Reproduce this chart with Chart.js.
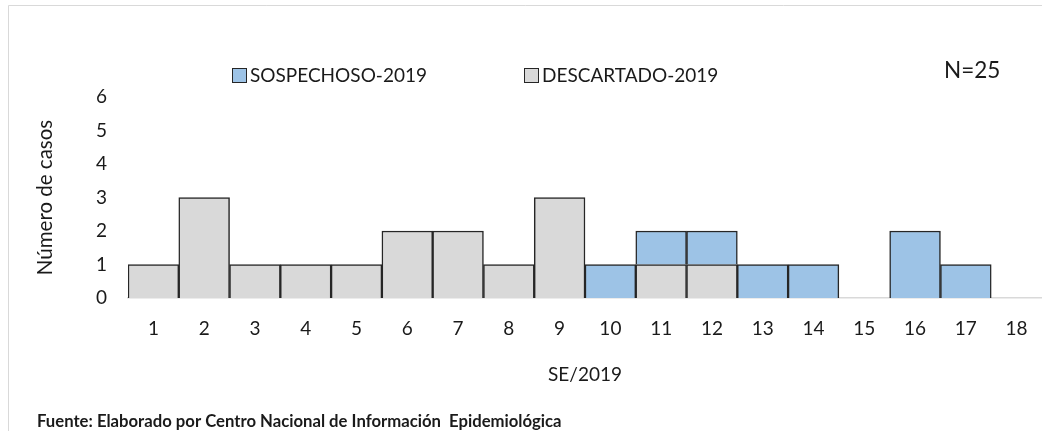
<!DOCTYPE html>
<html><head><meta charset="utf-8">
<script src="https://cdn.jsdelivr.net/npm/chart.js@4.4.1/dist/chart.umd.min.js"></script>
<style>html,body{margin:0;padding:0;background:#fff}#wrap{width:1042px;height:431px;position:relative}</style>
</head><body><div id="wrap"><canvas id="c"></canvas></div>
<script>
const weeks = ['1','2','3','4','5','6','7','8','9','10','11','12','13','14','15','16','17','18'];
const descartado = [1,3,1,1,1,2,2,1,3,0,1,1,0,0,0,0,0,0];
const sospechoso = [0,0,0,0,0,0,0,0,0,1,1,1,1,1,0,2,1,0];
const yTicks = [0,1,2,3,4,5,6];
const seriesLabels = ['SOSPECHOSO-2019','DESCARTADO-2019'];
const totalLabel = 'N=25';
const xTitle = 'SE/2019';
const yTitle = 'Número de casos';
const sourceNote = 'Fuente: Elaborado por Centro Nacional de Información  Epidemiológica';

const FONT = 'Lato';
const BLUE = '#9dc3e6', GREY = '#d9d9d9', EDGE = '#262626';

const decor = {
  id: 'decor',
  beforeDraw(chart) {
    const ctx = chart.ctx;
    ctx.save();
    ctx.fillStyle = '#fff';
    ctx.fillRect(0, 0, chart.width, chart.height);
    ctx.strokeStyle = '#d9d9d9';
    ctx.lineWidth = 1;
    ctx.beginPath();
    ctx.moveTo(8.5, chart.height);
    ctx.lineTo(8.5, 5.5);
    ctx.lineTo(chart.width, 5.5);
    ctx.stroke();
    ctx.restore();
  },
  afterDraw(chart) {
    const ctx = chart.ctx;
    ctx.save();
    const items = [{x: 232, ds: 1}, {x: 524, ds: 0}];
    ctx.font = '19px ' + FONT;
    ctx.textBaseline = 'middle';
    ctx.textAlign = 'left';
    items.forEach(it => {
      const ds = chart.data.datasets[it.ds];
      ctx.fillStyle = ds.backgroundColor;
      ctx.fillRect(it.x + 0.5, 68.5, 14, 14);
      ctx.strokeStyle = EDGE;
      ctx.lineWidth = 1;
      ctx.strokeRect(it.x + 0.5, 68.5, 14, 14);
      ctx.fillStyle = '#1a1a1a';
      ctx.fillText(ds.label, it.x + 18, 76);
    });
    ctx.font = '22.5px ' + FONT;
    ctx.fillText(totalLabel, 944, 71);
    ctx.font = 'bold 16.7px ' + FONT;
    ctx.fillText(sourceNote, 37, 422);
    ctx.restore();
  }
};

function build() {
  new Chart(document.getElementById('c'), {
    type: 'bar',
    data: {
      labels: weeks,
      datasets: [
        {label: seriesLabels[1], data: descartado, backgroundColor: GREY, borderColor: EDGE, borderWidth: 1.5, borderSkipped: 'start'},
        {label: seriesLabels[0], data: sospechoso, backgroundColor: BLUE, borderColor: EDGE, borderWidth: 1.5, borderSkipped: 'start'}
      ]
    },
    options: {
      responsive: true,
      maintainAspectRatio: false,
      animation: false,
      devicePixelRatio: 1,
      datasets: {bar: {barPercentage: 1, categoryPercentage: 1}},
      layout: {padding: {top: 97, left: 0, right: 0, bottom: 0}},
      plugins: {legend: {display: false}, tooltip: {enabled: false}, title: {display: false}},
      scales: {
        x: {
          stacked: true,
          grid: {display: false, drawTicks: false},
          border: {display: true, color: '#d9d9d9', width: 1.5},
          ticks: {color: '#1a1a1a', font: {family: FONT, size: 19}, padding: 19, maxRotation: 0},
          title: {display: true, text: xTitle, color: '#1a1a1a', font: {family: FONT, size: 19}, padding: {top: 0, bottom: 45}},
          afterFit(s) { s.height = 133; s.paddingLeft = 0; s.paddingRight = 0; }
        },
        y: {
          stacked: true,
          min: yTicks[0], max: yTicks[yTicks.length - 1],
          grid: {display: false, drawTicks: false},
          border: {display: false},
          afterBuildTicks(s) { s.ticks = yTicks.map(v => ({value: v})); },
          ticks: {color: '#1a1a1a', font: {family: FONT, size: 19}, padding: 21},
          title: {display: true, text: yTitle, color: '#1a1a1a', font: {family: FONT, size: 20.5}, padding: {top: 33, bottom: 0}},
          afterFit(s) { s.width = 128; s.paddingTop = 0; s.paddingBottom = 0; }
        }
      }
    },
    plugins: [decor]
  });
}
Promise.all([document.fonts.load('19px Lato'), document.fonts.load('bold 16px Lato')]).then(build, build);
</script>
</body></html>
